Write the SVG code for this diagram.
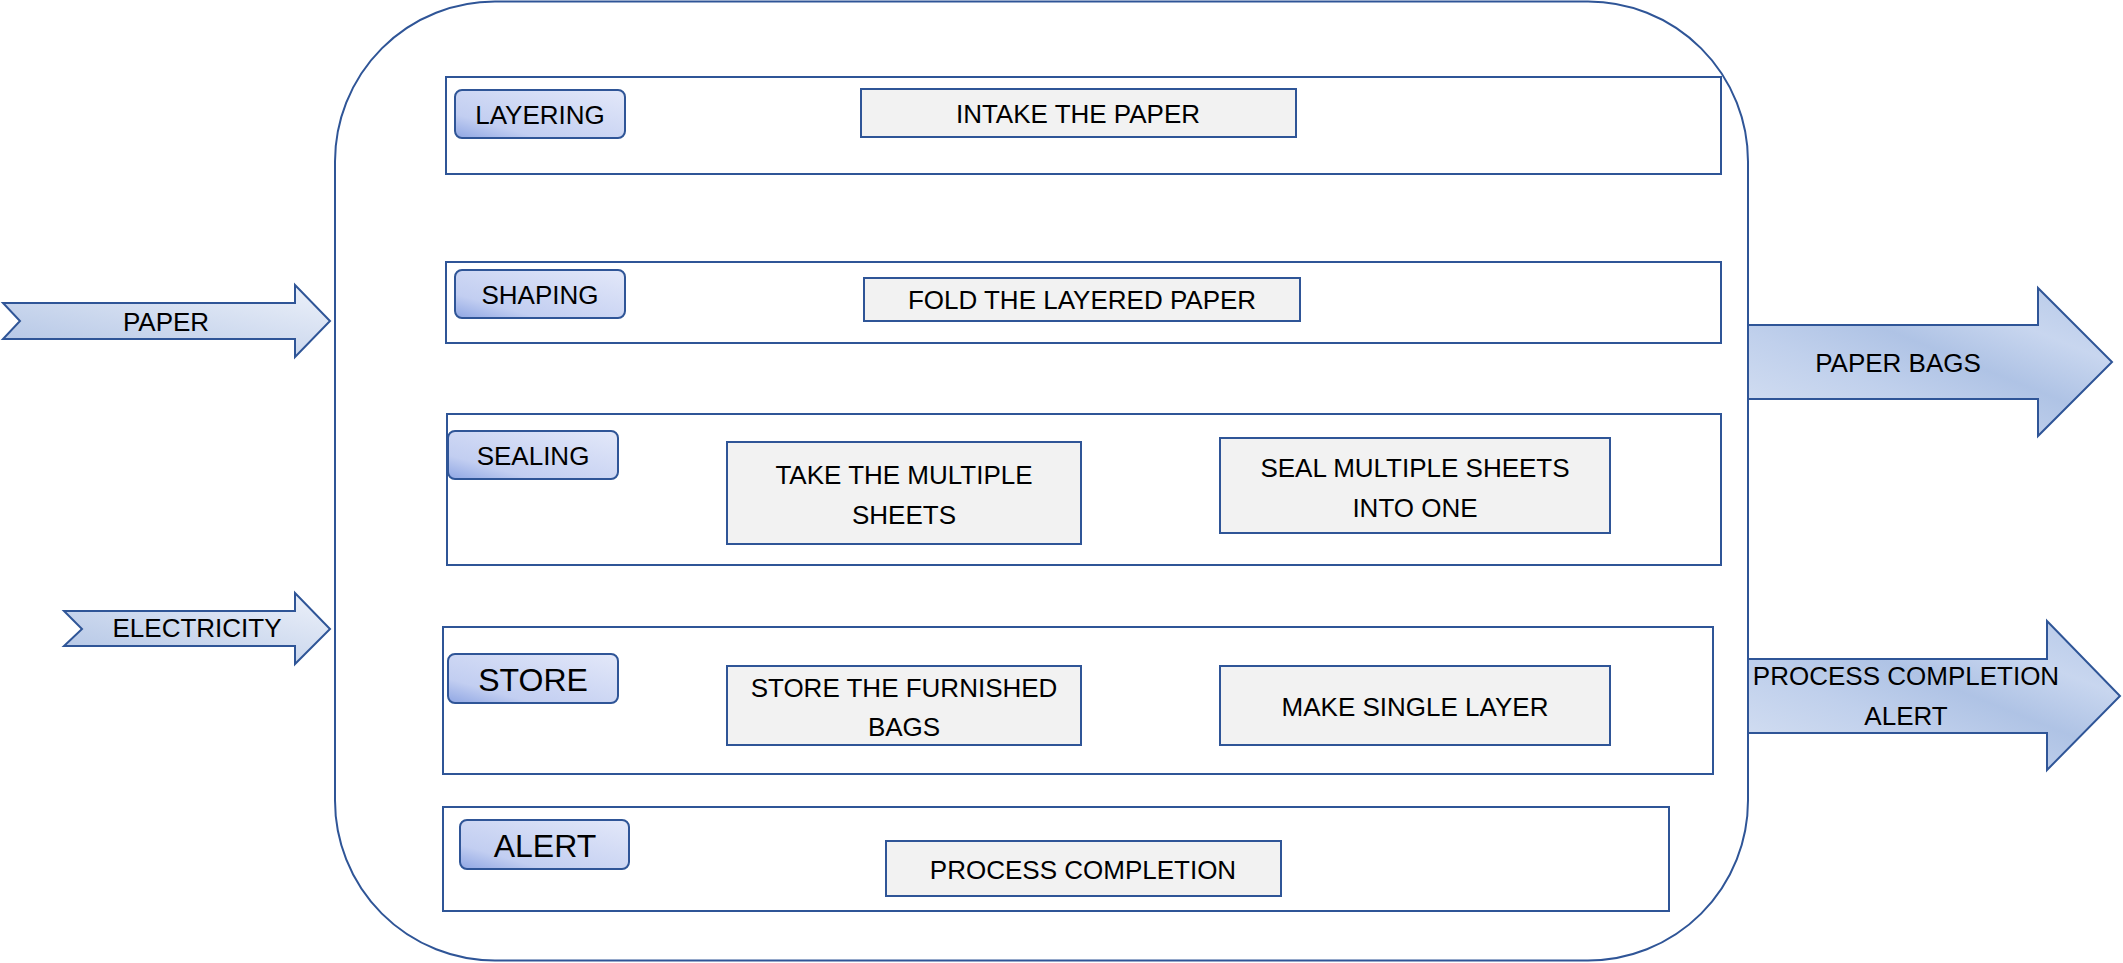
<svg xmlns="http://www.w3.org/2000/svg" width="2123" height="963" viewBox="0 0 2123 963">
<style>
text{font-family:"Liberation Sans",Arial,sans-serif;fill:#000;text-anchor:middle}
.row{fill:#fff;stroke:#2F5597;stroke-width:2}
.task{fill:#F2F2F2;stroke:#2F5597;stroke-width:2}
.lbl{fill:url(#lblg);stroke:#2F5597;stroke-width:2}
.arr{stroke:#2F5597;stroke-width:2}
.t26{font-size:26px}
.t32{font-size:32px}
</style>
<defs>
<linearGradient id="lblg" x1="0" y1="1" x2="1" y2="0">
<stop offset="0" stop-color="#8FA6E3"/>
<stop offset="0.25" stop-color="#C2CEF1"/>
<stop offset="1" stop-color="#E3E8F9"/>
</linearGradient>
<linearGradient id="ing" x1="0" y1="1" x2="1" y2="0">
<stop offset="0" stop-color="#B0C3E4"/>
<stop offset="1" stop-color="#EEF2FA"/>
</linearGradient>
<linearGradient id="outg" x1="0" y1="1" x2="1" y2="0">
<stop offset="0" stop-color="#D8E2F3"/>
<stop offset="0.35" stop-color="#C0D0EC"/>
<stop offset="0.55" stop-color="#AFC3E5"/>
<stop offset="0.75" stop-color="#C8D6EF"/>
<stop offset="1" stop-color="#B4C7E7"/>
</linearGradient>
</defs>

<g id="container">
<rect x="335" y="1.5" width="1413" height="959" rx="160" ry="160" fill="#fff" stroke="#2F5597" stroke-width="2"/>
</g>

<g id="row-layering">
<rect class="row" x="446" y="77" width="1275" height="97"/>
<rect class="lbl" x="455" y="90" width="170" height="48" rx="7"/>
<text class="t26" x="540" y="124">LAYERING</text>
<rect class="task" x="861" y="89" width="435" height="48"/>
<text class="t26" x="1078" y="123">INTAKE THE PAPER</text>
</g>

<g id="row-shaping">
<rect class="row" x="446" y="262" width="1275" height="81"/>
<rect class="lbl" x="455" y="270" width="170" height="48" rx="7"/>
<text class="t26" x="540" y="304">SHAPING</text>
<rect class="task" x="864" y="278" width="436" height="43"/>
<text class="t26" x="1082" y="309">FOLD THE LAYERED PAPER</text>
</g>

<g id="row-sealing">
<rect class="row" x="447" y="414" width="1274" height="151"/>
<rect class="lbl" x="448" y="431" width="170" height="48" rx="7"/>
<text class="t26" x="533" y="465">SEALING</text>
<rect class="task" x="727" y="442" width="354" height="102"/>
<text class="t26" x="904" y="484">TAKE THE MULTIPLE</text>
<text class="t26" x="904" y="524">SHEETS</text>
<rect class="task" x="1220" y="438" width="390" height="95"/>
<text class="t26" x="1415" y="477">SEAL MULTIPLE SHEETS</text>
<text class="t26" x="1415" y="517">INTO ONE</text>
</g>

<g id="row-store">
<rect class="row" x="443" y="627" width="1270" height="147"/>
<rect class="lbl" x="448" y="654" width="170" height="49" rx="7"/>
<text class="t32" x="533" y="691">STORE</text>
<rect class="task" x="727" y="666" width="354" height="79"/>
<text class="t26" x="904" y="697">STORE THE FURNISHED</text>
<text class="t26" x="904" y="736">BAGS</text>
<rect class="task" x="1220" y="666" width="390" height="79"/>
<text class="t26" x="1415" y="716">MAKE SINGLE LAYER</text>
</g>

<g id="row-alert">
<rect class="row" x="443" y="807" width="1226" height="104"/>
<rect class="lbl" x="460" y="820" width="169" height="49" rx="7"/>
<text class="t32" x="545" y="857">ALERT</text>
<rect class="task" x="886" y="841" width="395" height="55"/>
<text class="t26" x="1083" y="879">PROCESS COMPLETION</text>
</g>

<g id="connectors">
<g id="in-paper">
<path class="arr" fill="url(#ing)" d="M3,303 L295,303 L295,285 L330,321 L295,357 L295,339 L3,339 L20,321 Z"/>
<text class="t26" x="166" y="331">PAPER</text>
</g>
<g id="in-electricity">
<path class="arr" fill="url(#ing)" d="M64,611 L295,611 L295,593 L330,629 L295,664 L295,646 L64,646 L82,629 Z"/>
<text class="t26" x="197" y="637">ELECTRICITY</text>
</g>
<g id="out-bags">
<path class="arr" fill="url(#outg)" d="M1748,325 L2038,325 L2038,288 L2112,362 L2038,436 L2038,399 L1748,399 Z"/>
<text class="t26" x="1898" y="372">PAPER BAGS</text>
</g>
<g id="out-alert">
<path class="arr" fill="url(#outg)" d="M1748,659 L2047,659 L2047,621 L2120,696 L2047,770 L2047,733 L1748,733 Z"/>
<text class="t26" x="1906" y="685">PROCESS COMPLETION</text>
<text class="t26" x="1906" y="725">ALERT</text>
</g>
</g>
</svg>
